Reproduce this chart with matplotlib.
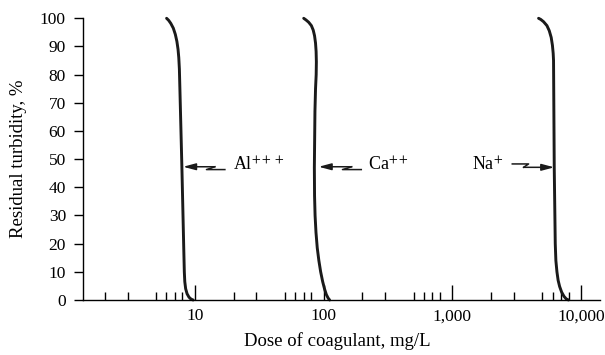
import numpy as np
import matplotlib.pyplot as plt
from matplotlib.ticker import FixedLocator, NullFormatter

plt.rcParams['font.family'] = ['Liberation Serif', 'DejaVu Serif']
plt.rcParams['mathtext.fontset'] = 'stix'

# curves: dose (mg/L) vs residual turbidity (%)
al_dose = [6.03, 6.25, 6.5, 6.8, 7.05, 7.25, 7.4, 7.5, 7.58, 7.65, 7.93, 8.2, 8.28, 8.35,
           8.48, 8.7, 9.0, 9.35, 9.7]
al_turb = [100, 99.3, 98.2, 96.5, 94.3, 91.8, 89, 86, 82, 75, 47, 18, 10, 6.5,
           4, 2.2, 1.0, 0.3, 0]

ca_dose = [70, 73, 76.5, 80.3, 83, 85, 86.5, 87.4, 87.8, 87.5, 86.5, 85.6, 84.7, 85.0,
           85.8, 87.2, 89.2, 91.8, 94.8, 98.3, 101.8, 105, 108.3, 111.3]
ca_turb = [100, 99.4, 98.6, 97.4, 95.8, 93.8, 91.2, 88.2, 84.5, 80, 75, 67, 47, 37,
           30, 24, 18.5, 14, 10, 6.5, 3.8, 1.9, 0.7, 0]

na_dose = [4666, 4850, 5100, 5420, 5650, 5850, 5980, 6060, 6100, 6177, 6290, 6360,
           6482, 6620, 6800, 7050, 7350, 7650, 7974]
na_turb = [100, 99.6, 98.8, 97.4, 95.6, 93.2, 90.4, 87.6, 85, 47, 20, 14,
           10, 7, 4.8, 2.8, 1.3, 0.4, 0]

# label arrows (Z-shaped break in the shaft)
al_arrow_x = [17.1, 12.3, 14.3, 8.1]
al_arrow_y = [46.3, 46.3, 47.3, 47.3]
ca_arrow_x = [196, 140, 165, 91.5]
ca_arrow_y = [46.3, 46.3, 47.3, 47.3]
na_arrow_x = [2917, 3905, 3570, 6177]
na_arrow_y = [48.3, 48.3, 47.1, 47.1]

major_ticks = [10, 100, 1000, 10000]
major_labels = ['10', '100', '1,000', '10,000']
minor_mult = [2, 3, 5, 6, 7, 8]
minor_ticks = [m * 10 ** k for k in range(0, 4) for m in minor_mult]

fig = plt.figure(figsize=(6.05, 3.55), dpi=100)
ax = fig.add_axes([83.3 / 605, 55 / 355, (600 - 83.3) / 605, (300 - 18.3) / 355])

for d, t in [(al_dose, al_turb), (ca_dose, ca_turb), (na_dose, na_turb)]:
    ax.plot(d, t, color='#1a1a1a', lw=2.1, solid_capstyle='round',
            solid_joinstyle='round', clip_on=False)

for xs, ys in [(al_arrow_x, al_arrow_y), (ca_arrow_x, ca_arrow_y), (na_arrow_x, na_arrow_y)]:
    ax.plot(xs[:3], ys[:3], color='#1a1a1a', lw=1.1)
    ax.annotate('', xy=(xs[3], ys[3]), xytext=(xs[2], ys[2]),
                arrowprops=dict(arrowstyle='-|>,head_length=0.75,head_width=0.2',
                                color='#1a1a1a', lw=1.1, shrinkA=0, shrinkB=0))

ax.text(19.7, 46.1, r'Al$^{+++}$', fontsize=13, va='baseline', ha='left')
ax.text(223, 46.1, r'Ca$^{++}$', fontsize=13, va='baseline', ha='left')
ax.text(2506, 46.1, r'Na$^{+}$', fontsize=13, va='baseline', ha='right')

ax.set_xscale('log')
ax.set_xlim(1.36, 14000)
ax.set_ylim(0, 100)

ax.xaxis.set_major_locator(FixedLocator(major_ticks))
ax.set_xticklabels(major_labels)
ax.xaxis.set_minor_locator(FixedLocator(minor_ticks))
ax.xaxis.set_minor_formatter(NullFormatter())
ax.set_yticks(np.arange(0, 101, 10))

ax.tick_params(axis='x', which='major', direction='in', length=11, width=1, pad=6, labelsize=12.5)
ax.tick_params(axis='x', which='minor', direction='in', length=6, width=1)
ax.tick_params(axis='y', direction='out', length=6.5, width=1, pad=6, labelsize=12.5)

for s in ['top', 'right']:
    ax.spines[s].set_visible(False)
for s in ['left', 'bottom']:
    ax.spines[s].set_linewidth(1)

ax.set_xlabel('Dose of coagulant, mg/L', fontsize=13.5)
ax.set_ylabel('Residual turbidity, %', fontsize=13.5)
ax.xaxis.set_label_coords((337 - 83.3) / (600 - 83.3), -(332 - 300) / (300 - 18.3))
ax.yaxis.set_label_coords(-(83.3 - 27) / (600 - 83.3), 0.5)

fig.savefig('out.png', dpi=100)
